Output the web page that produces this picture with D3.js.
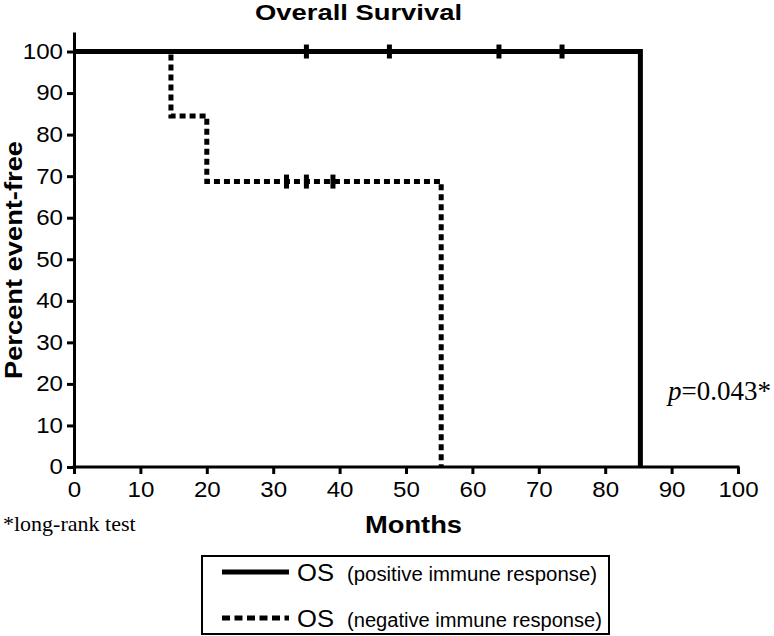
<!DOCTYPE html>
<html><head><meta charset="utf-8">
<script src="https://cdn.jsdelivr.net/npm/d3@7"></script>
<style>body{margin:0;background:#fff}svg{display:block}</style>
</head><body>
<svg id="c" width="774" height="636"></svg>
<script>
// Data
const xTicks = [0,10,20,30,40,50,60,70,80,90,100];
const yTicks = [0,10,20,30,40,50,60,70,80,90,100];
const posTimes = [0, 85.3];
const posSurv = [100, 0];
const posCensor = [35, 47.5, 64, 73.5];
const posCensorSurv = [100, 100, 100, 100];
const negTimes = [0, 14.6, 20, 55.3];
const negSurv = [100, 84.5, 68.7, 0];
const negCensor = [32, 35, 39];
const negCensorSurv = [68.7, 68.7, 68.7];
const legendLabels = ["positive immune response", "negative immune response"];

const svg = d3.select("#c");
const sans = "'Liberation Sans', Arial, sans-serif";
const serif = "'Liberation Serif', 'Times New Roman', serif";

const x = d3.scaleLinear().domain([0,100]).range([74,738]);
const y = d3.scaleLinear().domain([0,104.7]).range([467,32]);

function widen(sel, f){
  sel.each(function(){
    const w = this.getComputedTextLength();
    d3.select(this).attr("textLength", w*f).attr("lengthAdjust","spacingAndGlyphs");
  });
}

// Axes
const gx = svg.append("g").attr("transform", `translate(0,${y(0)})`)
  .call(d3.axisBottom(x).tickValues(xTicks).tickSize(7).tickSizeOuter(0).tickPadding(8));
const gy = svg.append("g").attr("transform", `translate(${x(0)},0)`)
  .call(d3.axisLeft(y).tickValues(yTicks).tickSize(7).tickSizeOuter(0).tickPadding(4));
[gx, gy].forEach(g => {
  g.selectAll("path.domain").attr("stroke","#000").attr("stroke-width",3);
  g.selectAll(".tick line").attr("stroke","#000").attr("stroke-width",3);
  g.selectAll(".tick text").attr("fill","#000").style("font-family",sans).style("font-size","21.5px");
  widen(g.selectAll(".tick text"), 1.12);
});
gx.select("path.domain").attr("d", `M${x(0)-1.5},0H${x(100)+1.5}`);

// Curves
const line = d3.line().x(d=>x(d[0])).y(d=>y(d[1])).curve(d3.curveStepAfter);
svg.append("path").datum(posTimes.map((t,i)=>[t,posSurv[i]]))
  .attr("d", line).attr("fill","none").attr("stroke","#000").attr("stroke-width",5);
svg.append("path").datum(negTimes.map((t,i)=>[t,negSurv[i]]))
  .attr("d", line).attr("fill","none").attr("stroke","#000").attr("stroke-width",5)
  .attr("stroke-dasharray","6,4");

// Censor marks
function censor(ts, ss){
  svg.append("g").selectAll("line").data(ts.map((t,i)=>[t,ss[i]])).join("line")
    .attr("x1",d=>x(d[0])).attr("x2",d=>x(d[0]))
    .attr("y1",d=>y(d[1])-7).attr("y2",d=>y(d[1])+7)
    .attr("stroke","#000").attr("stroke-width",5);
}
censor(posCensor, posCensorSurv);
censor(negCensor, negCensorSurv);

// Titles
svg.append("text").attr("x",255).attr("y",20)
  .attr("textLength",207).attr("lengthAdjust","spacingAndGlyphs")
  .style("font-family",sans).style("font-weight","bold").style("font-size","21.5px").text("Overall Survival");
svg.append("text").attr("transform","translate(22,260) rotate(-90)").attr("text-anchor","middle")
  .attr("textLength",238).attr("lengthAdjust","spacingAndGlyphs")
  .style("font-family",sans).style("font-weight","bold").style("font-size","24px").text("Percent event-free");
svg.append("text").attr("x",365).attr("y",533)
  .attr("textLength",97).attr("lengthAdjust","spacingAndGlyphs")
  .style("font-family",sans).style("font-weight","bold").style("font-size","23px").text("Months");
svg.append("text").attr("x",3).attr("y",531)
  .style("font-family",serif).style("font-size","22px").text("*long-rank test");
const pt = svg.append("text").attr("x",668).attr("y",400)
  .style("font-family",serif).style("font-size","27px");
pt.append("tspan").style("font-style","italic").text("p");
pt.append("tspan").text("=0.043*");

// Legend
svg.append("rect").attr("x",202).attr("y",556).attr("width",407).attr("height",78)
  .attr("fill","none").attr("stroke","#000").attr("stroke-width",2);
const rowsY = [572, 618];
const dashes = [null, "8,4.5"];
const labelLens = [250, 255];
rowsY.forEach((ry,i)=>{
  const l = svg.append("line").attr("x1",222).attr("x2",289).attr("y1",ry).attr("y2",ry)
    .attr("stroke","#000").attr("stroke-width",5);
  if (dashes[i]) l.attr("stroke-dasharray",dashes[i]);
  svg.append("text").attr("x",297).attr("y",ry+8.5).style("font-family",sans)
    .style("font-size","24px").attr("textLength",37).attr("lengthAdjust","spacingAndGlyphs").text("OS");
  svg.append("text").attr("x",347).attr("y",ry+9).style("font-family",sans)
    .style("font-size","20px").attr("textLength",labelLens[i]).attr("lengthAdjust","spacingAndGlyphs")
    .text("(" + legendLabels[i] + ")");
});
</script>
</body></html>
